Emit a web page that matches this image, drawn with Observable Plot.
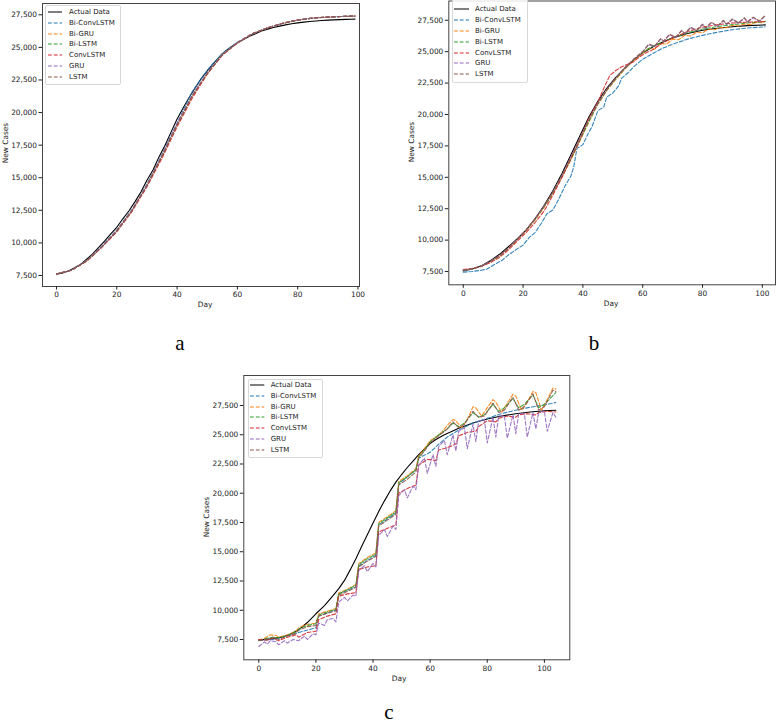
<!DOCTYPE html>
<html>
<head>
<meta charset="utf-8">
<script src="https://cdn.jsdelivr.net/npm/d3@7"></script>
<script src="https://cdn.jsdelivr.net/npm/@observablehq/plot@0.6"></script>
<style>
  html, body { margin: 0; padding: 0; background: #fff; }
  #root { position: relative; width: 776px; height: 723px; overflow: hidden; background: #fff; font-family: "DejaVu Sans", sans-serif; }
  .panel { position: absolute; }
  .lbl { position: absolute; font-size: 7.4px; color: #222; white-space: nowrap; transform: translate(-50%, -50%); }
  .lbl.rot { transform: translate(-50%, -50%) rotate(-90deg); }
  .letter { position: absolute; font-family: "Liberation Serif", serif; font-size: 21px; color: #000; transform: translate(-50%, -50%); }
  .legend { position: absolute; border: 1px solid #d8d8d8; border-radius: 2px; background: rgba(255,255,255,0.85); }
  .legrow { position: absolute; font-size: 7px; color: #222; white-space: nowrap; transform: translateY(-50%); }
</style>
</head>
<body>
<div id="root"></div>
<script>
// ---------- series names & colours ----------
const seriesNames = ["Actual Data", "Bi-ConvLSTM", "Bi-GRU", "Bi-LSTM", "ConvLSTM", "GRU", "LSTM"];
const seriesColors = ["#000000", "#1f77b4", "#ff7f0e", "#2ca02c", "#d62728", "#9467bd", "#8c564b"];
const xTicks = [0, 20, 40, 60, 80, 100];
const yTicks = [7500, 10000, 12500, 15000, 17500, 20000, 22500, 25000, 27500];

// ---------- panel a ----------
const aActualDays = [0,2,4,6,8,10,12,14,16,18,20,22,24,26,28,30,32,34,36,38,40,42,44,46,48,50,52,54,56,58,60,62,64,66,68,70,72,74,76,78,80,82,84,86,88,90,92,94,96,98,99];
const aActual = [7600,7700,7850,8100,8350,8750,9150,9650,10150,10700,11200,11850,12450,13150,13900,14800,15600,16600,17500,18500,19500,20350,21150,21900,22600,23200,23750,24250,24700,25050,25350,25600,25850,26050,26250,26400,26520,26630,26730,26810,26880,26940,26990,27030,27060,27090,27110,27130,27150,27160,27170];
const aDays = [0,5,10,15,20,25,30,35,40,45,50,55,60,65,70,75,80,85,90,95,99];
const aBiConvLSTM = [7620,7920,8650,9750,11000,12550,14500,16800,19200,21600,23250,24550,25400,26050,26500,26850,27100,27250,27330,27380,27400];
const aBiGRU = [7620,7900,8620,9700,10950,12500,14450,16700,19100,21300,23000,24450,25350,26050,26500,26850,27100,27250,27330,27380,27420];
const aBiLSTM = [7610,7900,8600,9680,10900,12450,14400,16650,19050,21250,23000,24450,25350,26050,26500,26850,27100,27250,27330,27380,27410];
const aConvLSTM = [7620,7900,8600,9650,10850,12400,14300,16500,18900,21100,22950,24400,25350,26050,26500,26850,27100,27250,27330,27380,27400];
const aGRU = [7620,7910,8630,9720,10950,12500,14450,16750,19150,21350,23050,24450,25350,26050,26500,26850,27100,27250,27330,27380,27410];
const aLSTM = [7610,7900,8610,9690,10900,12450,14400,16650,19050,21250,23000,24420,25330,26030,26480,26830,27080,27240,27320,27370,27400];

// ---------- panel b ----------
const bActual = [[0,7550],[3,7700],[6,7950],[9,8350],[12,8850],[15,9450],[18,10100],[21,10800],[24,11700],[27,12750],[30,13950],[33,15300],[36,16800],[39,18300],[42,19800],[45,21050],[48,22100],[51,22950],[54,23700],[57,24350],[60,24900],[65,25600],[70,26100],[75,26450],[80,26700],[85,26870],[90,26990],[95,27070],[101,27130]];
const bBiConvLSTM = [[0,7450],[3,7500],[6,7600],[8,7700],[10,8000],[13,8400],[15,8800],[18,9300],[20,9600],[22,10200],[24,10600],[26,11300],[28,12100],[30,12400],[32,13300],[34,14300],[36,15100],[37,15900],[38,17300],[40,17600],[42,18600],[43,19000],[45,20300],[47,20600],[48,21400],[50,21700],[52,22300],[53,22900],[55,23300],[57,23800],[60,24400],[63,24800],[66,25200],[70,25600],[75,26000],[80,26300],[85,26550],[90,26750],[95,26880],[101,26980]];
const bBiGRU = [[0,7600],[3,7700],[6,7900],[9,8250],[12,8700],[15,9300],[18,10000],[21,10750],[24,11600],[27,12600],[30,13700],[33,15000],[36,16400],[39,17900],[42,19400],[45,20800],[48,21900],[51,22800],[54,23600],[57,24300],[60,24900],[62,25250],[64,25200],[66,25650],[68,25600],[70,26000],[72,25950],[74,26300],[76,26250],[78,26550],[80,26500],[82,26800],[84,26750],[86,26950],[88,26900],[90,27100],[92,27050],[94,27200],[96,27150],[98,27350],[100,27300],[101,27420]];
const bBiLSTM = [[0,7580],[3,7700],[6,7920],[9,8280],[12,8720],[15,9320],[18,10020],[21,10780],[24,11650],[27,12650],[30,13750],[33,15050],[36,16450],[39,17950],[42,19450],[45,20850],[48,21950],[51,22850],[54,23650],[57,24350],[60,24950],[63,25400],[66,25700],[70,26100],[75,26500],[80,26800],[85,27000],[90,27150],[95,27280],[101,27400]];
const bConvLSTM = [[0,7650],[3,7750],[6,7900],[9,8200],[12,8600],[15,9200],[18,9900],[21,10600],[24,11400],[27,12300],[30,13600],[33,15000],[36,16500],[39,18000],[42,19700],[45,21000],[47,22100],[49,23100],[51,23500],[53,23800],[55,24000],[57,24200],[59,24600],[61,24900],[63,25100],[66,25600],[70,26100],[75,26600],[80,26950],[85,27150],[90,27280],[95,27350],[101,27400]];
const bGRU = [[0,7600],[3,7720],[6,7930],[9,8300],[12,8760],[15,9350],[18,10060],[21,10820],[24,11700],[27,12700],[30,13850],[33,15150],[36,16600],[39,18100],[42,19600],[45,20900],[48,22000],[51,22900],[54,23700],[57,24400],[60,25000],[62,25550],[64,25400],[66,26000],[67,25800],[69,26350],[71,26100],[73,26650],[74,26400],[76,26900],[78,26650],[80,27150],[81,26850],[83,27300],[85,27000],[87,27450],[88,27150],[90,27550],[92,27250],[94,27650],[95,27350],[97,27700],[99,27400],[101,27850]];
const bLSTM = [[0,7600],[3,7720],[6,7920],[9,8300],[12,8750],[15,9350],[18,10050],[21,10800],[24,11700],[27,12700],[30,13850],[33,15150],[36,16600],[39,18100],[42,19600],[45,20900],[48,22000],[51,22900],[54,23700],[57,24400],[60,25000],[62,25600],[64,25450],[66,26050],[67,25850],[69,26400],[71,26150],[73,26700],[74,26450],[76,26950],[78,26700],[80,27200],[81,26900],[83,27350],[85,27050],[87,27500],[88,27200],[90,27600],[92,27300],[94,27700],[95,27400],[97,27750],[99,27450],[101,27900]];

// ---------- panel c ----------
const cActual = [[0,7450],[4,7550],[8,7700],[11,7950],[14,8350],[17,8950],[20,9700],[23,10400],[26,11250],[28,11850],[30,12550],[32,13450],[34,14400],[36,15450],[38,16450],[40,17450],[42,18450],[44,19350],[46,20200],[48,20950],[50,21600],[52,22200],[54,22750],[56,23300],[58,23800],[60,24250],[62,24600],[65,25000],[70,25550],[75,26000],[80,26350],[85,26600],[90,26800],[95,26950],[100,27050],[104,27100]];
const cBiConvLSTM = [[0,7450],[5,7500],[10,7800],[14,8100],[20,8500],[21,9500],[27,10000],[28,11400],[34,12000],[35,13800],[41,14700],[42,17300],[48,18300],[49,20800],[55,22000],[56,23000],[60,23500],[63,24200],[66,24800],[70,25400],[75,26000],[80,26400],[85,26800],[90,27100],[95,27350],[100,27550],[104,27750]];
const cBiGRU = [[0,7450],[2,7600],[4,7900],[6,7850],[7,7700],[10,7900],[13,8200],[14,8500],[17,8800],[20,8900],[21,9700],[24,9900],[27,10150],[28,11500],[31,11800],[34,12200],[35,14000],[38,14500],[41,14900],[42,17500],[45,18000],[48,18500],[49,21000],[52,21500],[55,22100],[56,23200],[58,23800],[60,24500],[62,24800],[64,25200],[66,25800],[68,26300],[69,26200],[71,25600],[73,26300],[75,27400],[76,27300],[78,26600],[80,27300],[82,28000],[83,27800],[85,26900],[87,27700],[89,28450],[90,28300],[92,27100],[94,27800],[96,28700],[97,28600],[99,27100],[101,28000],[103,29000],[104,28900]];
const cBiLSTM = [[0,7450],[3,7600],[5,7700],[7,7650],[10,7850],[13,8150],[14,8400],[17,8700],[20,8850],[21,9600],[24,9850],[27,10100],[28,11400],[31,11750],[34,12150],[35,13900],[38,14400],[41,14800],[42,17400],[45,17900],[48,18400],[49,20900],[52,21400],[55,22000],[56,23100],[58,23700],[60,24400],[63,25000],[66,25500],[68,26000],[70,25700],[72,26000],[75,26900],[77,26500],[79,26700],[82,27600],[84,27000],[86,27300],[89,28100],[91,27300],[93,27600],[96,28400],[98,27300],[100,27600],[104,28600]];
const cConvLSTM = [[0,7500],[3,7450],[5,7600],[7,7400],[10,7700],[13,7900],[14,7700],[17,8100],[20,8200],[21,9200],[24,9500],[27,9700],[28,11200],[31,11400],[34,11500],[35,13500],[38,13700],[41,13800],[42,16700],[45,17000],[48,17300],[49,20000],[52,20400],[55,20700],[56,22400],[59,22900],[62,22800],[63,23700],[66,23900],[69,24200],[70,24900],[73,25200],[76,25300],[77,25700],[80,26200],[83,26100],[84,26400],[87,26600],[90,26500],[91,26700],[94,26800],[97,26700],[98,26900],[101,27000],[104,26950]];
const cGRU = [[0,6900],[2,7300],[3,7100],[4,7400],[6,7300],[7,7050],[9,7400],[10,7200],[12,7500],[14,7400],[16,7800],[17,7500],[19,8000],[20,7900],[21,8900],[23,8700],[24,9200],[26,9300],[27,9000],[28,10700],[30,11100],[31,10800],[33,11300],[34,11200],[35,13400],[37,13800],[38,13300],[40,14000],[41,13700],[42,16400],[44,16900],[45,16300],[47,17200],[48,16900],[49,19800],[51,20300],[52,19600],[54,20600],[55,20300],[56,22400],[58,23000],[59,21700],[61,23300],[62,22300],[63,24000],[65,24500],[66,23300],[68,25000],[69,23600],[70,25300],[72,25600],[73,23800],[75,25900],[76,24400],[77,26200],[79,26300],[80,24300],[82,26500],[83,24800],[84,26600],[86,26600],[87,24700],[89,26700],[90,25100],[91,26800],[93,26800],[94,24800],[96,26900],[97,25500],[98,26900],[100,27000],[101,25300],[103,26900],[104,26500]];
const cLSTM = [[0,7400],[3,7550],[5,7650],[7,7500],[10,7800],[13,8050],[14,8300],[17,8600],[20,8700],[21,9500],[24,9750],[27,9950],[28,11300],[31,11600],[34,11950],[35,13700],[38,14200],[41,14600],[42,17200],[45,17700],[48,18200],[49,20700],[52,21200],[55,21800],[56,23000],[58,23600],[60,24300],[63,24900],[66,25500],[68,26100],[70,25600],[72,25900],[75,27000],[77,26500],[79,26600],[82,27700],[84,26900],[86,27100],[89,28200],[91,27100],[93,27400],[96,28500],[98,27100],[100,27400],[103,28800],[104,28700]];

// ---------- helpers ----------
const zip = (days, vals) => days.map((d, i) => [d, vals[i]]);
const panels = [
  {
    name: "a", left: 0, top: 0, width: 362, height: 315,
    margins: [3, 3, 29, 42], xDomain: [-4.64, 100.5], yDomain: [6656, 28367],
    series: [zip(aActualDays, aActual), zip(aDays, aBiConvLSTM), zip(aDays, aBiGRU), zip(aDays, aBiLSTM), zip(aDays, aConvLSTM), zip(aDays, aGRU), zip(aDays, aLSTM)],
    legend: {x0: 45, y0: 5, w: 74, h: 78, rowY: 12.3, step: 10.7, lx0: 48, lx1: 62, tx: 69},
    day: [205, 304], cases: [5, 143], letter: [180, 343]
  },
  {
    name: "b", left: 390, top: 0, width: 386, height: 315,
    margins: [0.5, 1, 30.7, 58.3], xDomain: [-4.84, 104.4], yDomain: [6443, 29034],
    series: [bActual, bBiConvLSTM, bBiGRU, bBiLSTM, bConvLSTM, bGRU, bLSTM],
    legend: {x0: 451.7, y0: -1, w: 74, h: 82, rowY: 9.3, step: 10.8, lx0: 454, lx1: 469, tx: 475},
    day: [611, 303], cases: [411, 142], letter: [594, 343]
  },
  {
    name: "c", left: 200, top: 360, width: 400, height: 330,
    margins: [15, 30.7, 30.7, 43.3], xDomain: [-5.25, 108.9], yDomain: [5765, 30064],
    series: [cActual, cBiConvLSTM, cBiGRU, cBiLSTM, cConvLSTM, cGRU, cLSTM],
    legend: {x0: 247.7, y0: 379.3, w: 73, h: 77, rowY: 385, step: 10.8, lx0: 250, lx1: 264.3, tx: 270.7},
    day: [399, 678], cases: [206, 517], letter: [389, 712]
  }
];

const root = document.getElementById("root");

for (const p of panels) {
  const marks = [];
  p.series.forEach((data, i) => {
    marks.push(Plot.line(data, {
      x: d => d[0], y: d => d[1],
      stroke: seriesColors[i],
      strokeWidth: 1.1,
      strokeDasharray: i === 0 ? null : "3.8,2",
      strokeOpacity: i === 0 ? 1 : 0.9
    }));
  });
  marks.push(Plot.frame({stroke: "#444", strokeWidth: 1}));
  marks.push(Plot.axisX({ticks: xTicks, tickSize: 3.5, tickPadding: 2, label: null, tickFormat: d => String(d)}));
  marks.push(Plot.axisY({ticks: yTicks, tickSize: 3.5, tickPadding: 2, label: null, tickFormat: d3.format(",")}));
  const chart = Plot.plot({
    width: p.width, height: p.height,
    marginTop: p.margins[0], marginRight: p.margins[1], marginBottom: p.margins[2], marginLeft: p.margins[3],
    x: {domain: p.xDomain},
    y: {domain: p.yDomain},
    style: {fontSize: "7.4px", fontFamily: "DejaVu Sans", color: "#222", background: "transparent", overflow: "visible"},
    marks
  });
  chart.classList.add("panel");
  chart.style.left = p.left + "px";
  chart.style.top = p.top + "px";
  root.appendChild(chart);

  // legend
  const L = p.legend;
  const box = document.createElement("div");
  box.className = "legend";
  box.style.left = L.x0 + "px"; box.style.top = L.y0 + "px";
  box.style.width = L.w + "px"; box.style.height = L.h + "px";
  root.appendChild(box);
  seriesNames.forEach((nm, i) => {
    const y = L.rowY + i * L.step;
    const svg = document.createElementNS("http://www.w3.org/2000/svg", "svg");
    svg.setAttribute("width", L.lx1 - L.lx0 + 2);
    svg.setAttribute("height", 4);
    svg.style.position = "absolute";
    svg.style.left = (L.lx0 - 1) + "px";
    svg.style.top = (y - 2) + "px";
    const ln = document.createElementNS("http://www.w3.org/2000/svg", "line");
    ln.setAttribute("x1", 1); ln.setAttribute("x2", L.lx1 - L.lx0 + 1);
    ln.setAttribute("y1", 2); ln.setAttribute("y2", 2);
    ln.setAttribute("stroke", seriesColors[i]);
    ln.setAttribute("stroke-width", i === 0 ? 1.0 : 1.2);
    if (i > 0) ln.setAttribute("stroke-dasharray", "3.8,2");
    svg.appendChild(ln);
    root.appendChild(svg);
    const t = document.createElement("div");
    t.className = "legrow";
    t.style.left = L.tx + "px"; t.style.top = y + "px";
    t.textContent = nm;
    root.appendChild(t);
  });

  // axis labels
  const dl = document.createElement("div");
  dl.className = "lbl"; dl.textContent = "Day";
  dl.style.left = p.day[0] + "px"; dl.style.top = p.day[1] + "px";
  root.appendChild(dl);
  const cl = document.createElement("div");
  cl.className = "lbl rot"; cl.textContent = "New Cases";
  cl.style.left = p.cases[0] + "px"; cl.style.top = p.cases[1] + "px";
  root.appendChild(cl);
  const le = document.createElement("div");
  le.className = "letter"; le.textContent = p.name;
  le.style.left = p.letter[0] + "px"; le.style.top = p.letter[1] + "px";
  root.appendChild(le);
}
</script>
</body>
</html>
